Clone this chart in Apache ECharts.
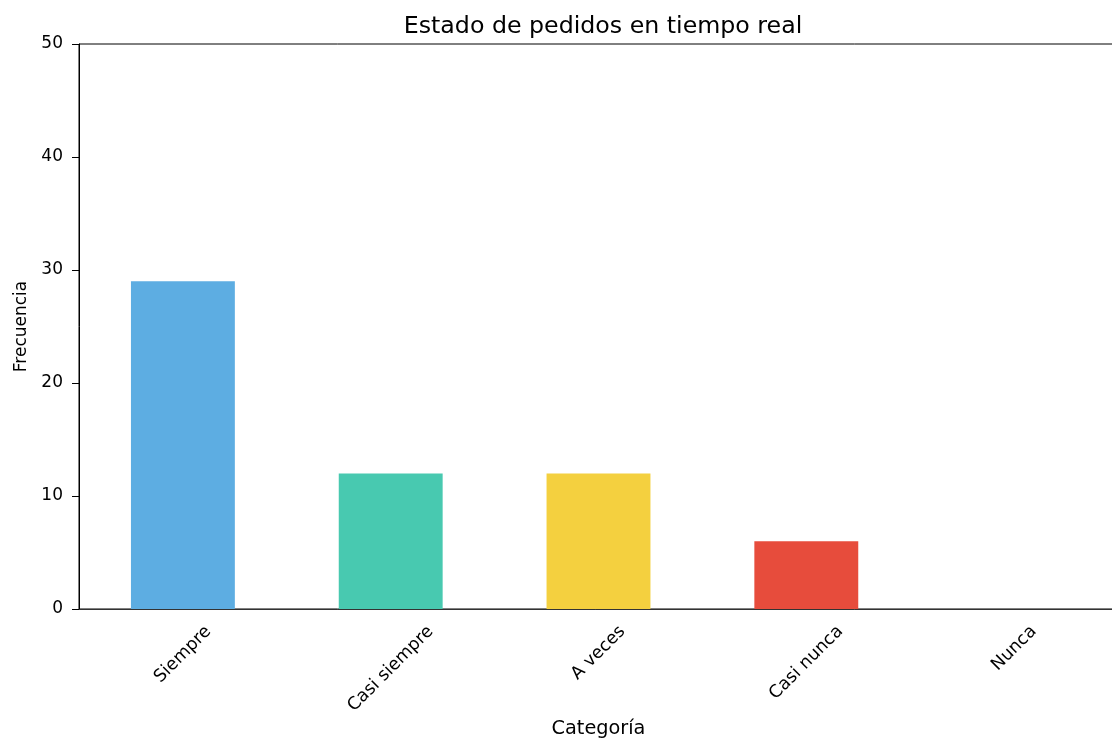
<!DOCTYPE html>
<html>
<head>
<meta charset="utf-8">
<script src="https://cdn.jsdelivr.net/npm/echarts@6/dist/echarts.min.js"></script>
<style>
  html, body { margin: 0; padding: 0; background: #fff; overflow: hidden; }
  #main { width: 1112px; height: 742px; }
</style>
</head>
<body>
<div id="main"></div>
<script>
// datos del grafico
var categorias = ['Siempre', 'Casi siempre', 'A veces', 'Casi nunca', 'Nunca'];
var frecuencias = [29, 12, 12, 6, 0];
var colores = ['#5DADE2', '#48C9B0', '#F4D03F', '#E74C3C', '#9B59B6'];
var yTicks = [0, 10, 20, 30, 40, 50];

var FONT = 'DejaVu Sans';
var tickSize = 17.5;

// matplotlib centra la etiqueta girada bajo la marca:
// se baja el centro del texto con lineHeight (eje y local) y padding (eje x local)
var ctx = document.createElement('canvas').getContext('2d');
ctx.font = tickSize + 'px "' + FONT + '"';
function etiqueta(txt) {
    var w = ctx.measureText(txt).width;
    var h = tickSize * 1.1;
    var d = (w + h) * Math.SQRT1_2 / 2;
    var p = d * Math.SQRT2;
    return {
        value: txt,
        textStyle: { align: 'center', verticalAlign: 'top', lineHeight: p, padding: [0, p, 0, 0] }
    };
}

var myChart = echarts.init(document.getElementById('main'));
var option = {
    animation: false,
    backgroundColor: '#fff',
    title: {
        text: 'Estado de pedidos en tiempo real',
        left: 598,
        top: 10,
        textAlign: 'center',
        textStyle: { fontFamily: FONT, fontSize: 23.7, fontWeight: 'normal', color: '#000' }
    },
    grid: {
        left: 79, right: -6, top: 44, bottom: 133,
        outerBoundsMode: 'none',
        containLabel: false,
        show: true, borderColor: '#000', borderWidth: 1,
        backgroundColor: 'transparent'
    },
    xAxis: {
        type: 'category',
        data: categorias.map(etiqueta),
        name: 'Categoría',
        nameLocation: 'middle',
        nameGap: 110,
        nameMoveOverlap: false,
        nameTextStyle: { fontFamily: FONT, fontSize: 19.3, color: '#000' },
        axisLine: { lineStyle: { color: '#333', width: 1 } },
        axisTick: { alignWithLabel: true, length: 7, lineStyle: { color: '#000' } },
        axisLabel: {
            rotate: 45, interval: 0, margin: 13,
            fontFamily: FONT, fontSize: tickSize, color: '#000'
        }
    },
    yAxis: {
        type: 'value',
        min: yTicks[0],
        max: yTicks[yTicks.length - 1],
        interval: yTicks[1] - yTicks[0],
        name: 'Frecuencia',
        nameLocation: 'middle',
        nameGap: 49,
        nameMoveOverlap: false,
        nameTextStyle: { fontFamily: FONT, fontSize: 17, color: '#000' },
        axisLine: { show: true, lineStyle: { color: '#000', width: 1 } },
        axisTick: { show: true, length: 7, lineStyle: { color: '#000' } },
        axisLabel: { margin: 16, fontFamily: FONT, fontSize: 17, color: '#000' },
        splitLine: { show: false }
    },
    series: [{
        type: 'bar',
        barWidth: '50%',
        data: frecuencias.map(function (v, i) {
            return { value: v, itemStyle: { color: colores[i] } };
        })
    }]
};
myChart.setOption(option);
</script>
</body>
</html>
